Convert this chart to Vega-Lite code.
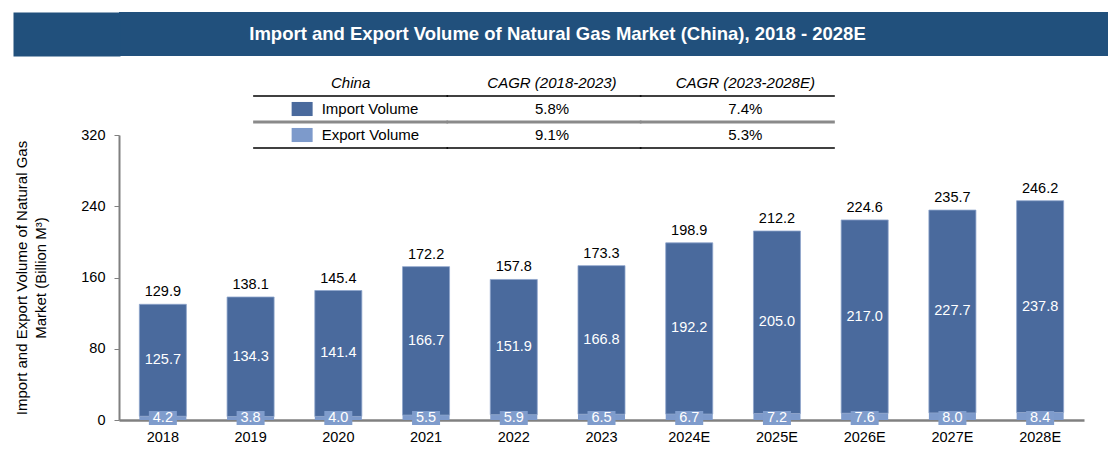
{
  "$schema": "https://vega.github.io/schema/vega-lite/v6.json",
  "padding": {"left": 14, "top": 12, "right": 0, "bottom": 0},
  "background": "white",
  "config": {"view": {"stroke": null}, "font": "Liberation Sans"},
  "datasets": {
    "bars": [
      {"year": "2018", "import": 125.7, "export": 4.2, "total": 129.9},
      {"year": "2019", "import": 134.3, "export": 3.8, "total": 138.1},
      {"year": "2020", "import": 141.4, "export": 4.0, "total": 145.4},
      {"year": "2021", "import": 166.7, "export": 5.5, "total": 172.2},
      {"year": "2022", "import": 151.9, "export": 5.9, "total": 157.8},
      {"year": "2023", "import": 166.8, "export": 6.5, "total": 173.3},
      {"year": "2024E", "import": 192.2, "export": 6.7, "total": 198.9},
      {"year": "2025E", "import": 205.0, "export": 7.2, "total": 212.2},
      {"year": "2026E", "import": 217.0, "export": 7.6, "total": 224.6},
      {"year": "2027E", "import": 227.7, "export": 8.0, "total": 235.7},
      {"year": "2028E", "import": 237.8, "export": 8.4, "total": 246.2}
    ],
    "table": [
      {"row": "h", "col": "label", "text": "China"},
      {"row": "h", "col": "c1", "text": "CAGR (2018-2023)"},
      {"row": "h", "col": "c2", "text": "CAGR (2023-2028E)"},
      {"row": "i", "col": "label", "text": "Import Volume"},
      {"row": "i", "col": "c1", "text": "5.8%"},
      {"row": "i", "col": "c2", "text": "7.4%"},
      {"row": "e", "col": "label", "text": "Export Volume"},
      {"row": "e", "col": "c1", "text": "9.1%"},
      {"row": "e", "col": "c2", "text": "5.3%"}
    ]
  },
  "spacing": 20,
  "vconcat": [
    {
      "width": 989,
      "height": 44,
      "view": {"fill": "#21507c", "stroke": null},
      "data": {"values": [{"title": "Import and Export Volume of Natural Gas Market (China), 2018 - 2028E"}]},
      "mark": {"type": "text", "color": "white", "fontWeight": "bold", "fontSize": 18.5, "font": "Liberation Sans", "dx": -56},
      "encoding": {
        "y": {"field": "title", "type": "nominal", "axis": {"title": null, "labels": false, "ticks": false, "domainColor": "#21507c", "domainWidth": 107, "offset": 52.5}},
        "text": {"field": "title", "type": "nominal"}
      }
    },
    {
      "spacing": 0,
      "bounds": "flush",
      "vconcat": [
        {
          "width": 715,
          "height": 52,
          "data": {"name": "table"},
          "layer": [
            {
              "transform": [{"filter": "datum.row === 'h' && datum.col === 'label'"}],
              "mark": {"type": "text", "fontStyle": "italic", "fontSize": 15, "color": "black"},
              "encoding": {
                "x": {"field": "col", "type": "nominal", "scale": {"domain": ["label", "c1", "c2"], "paddingInner": 0, "paddingOuter": 0.349, "align": 1}, "axis": null},
                "y": {"field": "row", "type": "nominal", "scale": {"type": "point", "domain": ["h", "i", "e"], "padding": 0}, "axis": null},
                "text": {"field": "text", "type": "nominal"}
              }
            },
            {
              "transform": [{"filter": "datum.row === 'h' && datum.col !== 'label'"}],
              "mark": {"type": "text", "fontStyle": "italic", "fontSize": 15, "color": "black", "dx": 8},
              "encoding": {
                "x": {"field": "col", "type": "nominal"},
                "y": {"field": "row", "type": "nominal"},
                "text": {"field": "text", "type": "nominal"}
              }
            },
            {
              "transform": [{"filter": "datum.row !== 'h' && datum.col !== 'label'"}],
              "mark": {"type": "text", "fontSize": 15, "color": "black", "dx": 8},
              "encoding": {
                "x": {"field": "col", "type": "nominal"},
                "y": {"field": "row", "type": "nominal"},
                "text": {"field": "text", "type": "nominal"}
              }
            },
            {
              "transform": [{"filter": "datum.row !== 'h' && datum.col === 'label'"}],
              "mark": {"type": "text", "fontSize": 15, "color": "black", "align": "left", "dx": -29},
              "encoding": {
                "x": {"field": "col", "type": "nominal"},
                "y": {"field": "row", "type": "nominal"},
                "text": {"field": "text", "type": "nominal"}
              }
            },
            {
              "transform": [{"filter": "datum.row !== 'h' && datum.col === 'label'"}],
              "mark": {"type": "point", "filled": true, "opacity": 1, "shape": "M-1,-0.67L1,-0.67L1,0.67L-1,0.67Z", "size": 441, "xOffset": -48.5},
              "encoding": {
                "x": {"field": "col", "type": "nominal"},
                "y": {"field": "row", "type": "nominal"},
                "color": {"field": "text", "type": "nominal", "scale": {"domain": ["Import Volume", "Export Volume"], "range": ["#4a6a9d", "#7d9acb"]}, "legend": null}
              }
            },
            {
              "transform": [{"filter": "datum.row !== 'i'"}],
              "mark": {"type": "tick", "orient": "horizontal", "color": "black", "thickness": 1.5, "size": 195, "yOffset": 13, "opacity": 1},
              "encoding": {
                "x": {"field": "col", "type": "nominal"},
                "y": {"field": "row", "type": "nominal"}
              }
            },
            {
              "transform": [{"filter": "datum.row === 'i'"}],
              "mark": {"type": "tick", "orient": "horizontal", "color": "#8a8a8a", "thickness": 3, "size": 195, "yOffset": 13, "opacity": 1},
              "encoding": {
                "x": {"field": "col", "type": "nominal"},
                "y": {"field": "row", "type": "nominal"}
              }
            }
          ]
        },
        {
          "width": 965,
          "height": 285,
          "data": {"name": "bars"},
          "encoding": {
            "x": {
              "field": "year", "type": "ordinal", "sort": null,
              "scale": {"paddingInner": 0.464, "paddingOuter": 0.232},
              "axis": {"title": null, "labelAngle": 0, "ticks": false, "domainColor": "#808080", "domainWidth": 2.5, "labelFontSize": 14.5, "labelColor": "black", "labelPadding": 10, "grid": false}
            }
          },
          "layer": [
            {
              "mark": {"type": "bar", "color": "#7d9acb"},
              "encoding": {
                "y": {
                  "field": "export", "type": "quantitative",
                  "scale": {"domain": [0, 320], "nice": false},
                  "axis": {
                    "values": [0, 80, 160, 240, 320],
                    "title": ["Import and Export Volume of Natural Gas", "Market (Billion M³)"],
                    "titleFontSize": 15, "titleFontWeight": "normal", "titleColor": "black", "titlePadding": 32, "titleLineHeight": 19,
                    "labelFontSize": 14.5, "labelColor": "black", "labelPadding": 9,
                    "tickSize": 5, "tickColor": "#808080", "domainColor": "#808080", "domainWidth": 2, "grid": false
                  }
                }
              }
            },
            {
              "mark": {"type": "bar", "color": "#4a6a9d", "stroke": "#8ea5cc", "strokeWidth": 0.8},
              "encoding": {
                "y": {"field": "export", "type": "quantitative", "scale": {"domain": [0, 320], "nice": false}},
                "y2": {"field": "total"}
              }
            },
            {
              "mark": {"type": "text", "baseline": "alphabetic", "dy": -8, "fontSize": 14.5, "color": "black"},
              "encoding": {
                "y": {"field": "total", "type": "quantitative", "scale": {"domain": [0, 320], "nice": false}},
                "text": {"field": "total", "type": "quantitative", "format": ".1f"}
              }
            },
            {
              "transform": [{"fold": ["export", "total"], "as": ["k", "v"]}],
              "mark": {"type": "text", "color": "white", "fontSize": 14.5},
              "encoding": {
                "y": {"aggregate": "mean", "field": "v", "type": "quantitative", "scale": {"domain": [0, 320], "nice": false}},
                "text": {"aggregate": "max", "field": "import", "type": "quantitative", "format": ".1f"}
              }
            },
            {
              "mark": {"type": "point", "filled": true, "opacity": 1, "color": "#7f9ccc", "shape": "M-1,-0.5L1,-0.5L1,0.5L-1,0.5Z", "size": 784, "yOffset": -2},
              "encoding": {"y": {"datum": 0, "type": "quantitative", "scale": {"domain": [0, 320], "nice": false}}}
            },
            {
              "mark": {"type": "text", "color": "white", "fontSize": 14.5, "yOffset": -2},
              "encoding": {
                "y": {"datum": 0, "type": "quantitative", "scale": {"domain": [0, 320], "nice": false}},
                "text": {"field": "export", "type": "quantitative", "format": ".1f"}
              }
            }
          ]
        }
      ]
    }
  ]
}
